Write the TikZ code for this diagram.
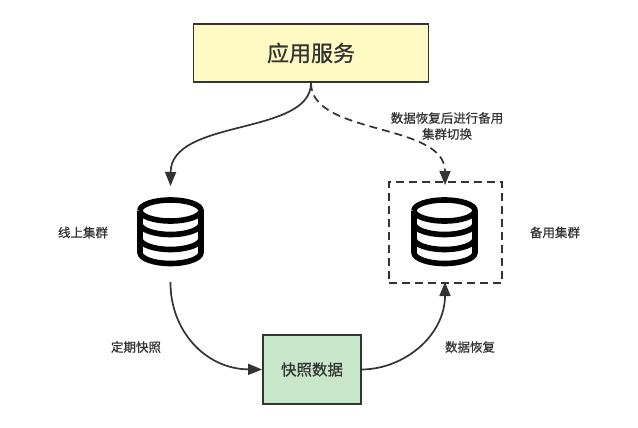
\documentclass[tikz,border=0pt]{standalone}
\usepackage{fontspec}
\setmainfont[FakeBold=0.6]{Noto Sans CJK SC}
\usetikzlibrary{arrows.meta}
\definecolor{ink}{HTML}{333333}
\definecolor{yellowfill}{HTML}{FFF9C4}
\definecolor{greenfill}{HTML}{C8E6C9}
\tikzset{
  x=1pt,y=-1pt,
  box/.style={draw=ink,line width=1.8pt,inner sep=0pt,text=ink},
  caption/.style={text=ink,font=\fontsize{12.5}{16}\selectfont,align=center,inner sep=0pt},
  link/.style={draw=ink,line width=1.7pt,-{Triangle[length=14pt,width=11pt]}},
  dbicon/.pic={
    \draw[black,line width=5.6pt] (-30.5,-22) arc[start angle=180,end angle=-180,x radius=30.5,y radius=10.5];
    \draw[black,line width=5.6pt] (-30.5,-22) -- (-30.5,20) arc[start angle=180,end angle=0,x radius=30.5,y radius=11] -- (30.5,-22);
    \draw[black,line width=5.6pt] (-30.5,-9) arc[start angle=180,end angle=0,x radius=30.5,y radius=11];
    \draw[black,line width=5.6pt] (-30.5,6) arc[start angle=180,end angle=0,x radius=30.5,y radius=11];
  }
}
\begin{document}
\begin{tikzpicture}
\useasboundingbox (0,0) rectangle (638,428);
\node[box,fill=yellowfill,minimum width=235pt,minimum height=58pt,font=\fontsize{22}{26}\selectfont] (app) at (311,53) {应用服务};
\node[box,fill=greenfill,minimum width=98pt,minimum height=69pt,font=\fontsize{15.5}{18}\selectfont] (snap) at (312,369.5) {快照数据};
\node[draw=ink,line width=1.7pt,dash pattern=on 8pt off 5pt,minimum width=113pt,minimum height=101pt,inner sep=0pt] (standby) at (445.5,232.5) {};
\coordinate (online) at (170.5,186);
\coordinate (onlinebase) at (170.5,282);
\coordinate (standbytop) at (445,185);
\coordinate (standbybottom) at (445,282);
\pic at (170.5,232.5) {dbicon};
\pic at (444.5,232.5) {dbicon};
\node[caption] (l1) at (83,232.5) {线上集群};
\node[caption] (l2) at (555,232.5) {备用集群};
\node[caption] (l3) at (136,347) {定期快照};
\node[caption] (l4) at (470,347) {数据恢复};
\node[caption] (l5) at (447,126) {数据恢复后进行备用\\集群切换};
\draw[link] (app.south) .. controls (311,136) and (171,118) .. (online);
\draw[link,dash pattern=on 8pt off 5pt] (app.south) .. controls (311,136) and (445,122) .. (standbytop);
\draw[link] (onlinebase) .. controls (170,330) and (205,369) .. (snap.west);
\draw[link] (snap.east) .. controls (405,369) and (445,335) .. (standbybottom);
\end{tikzpicture}
\end{document}
